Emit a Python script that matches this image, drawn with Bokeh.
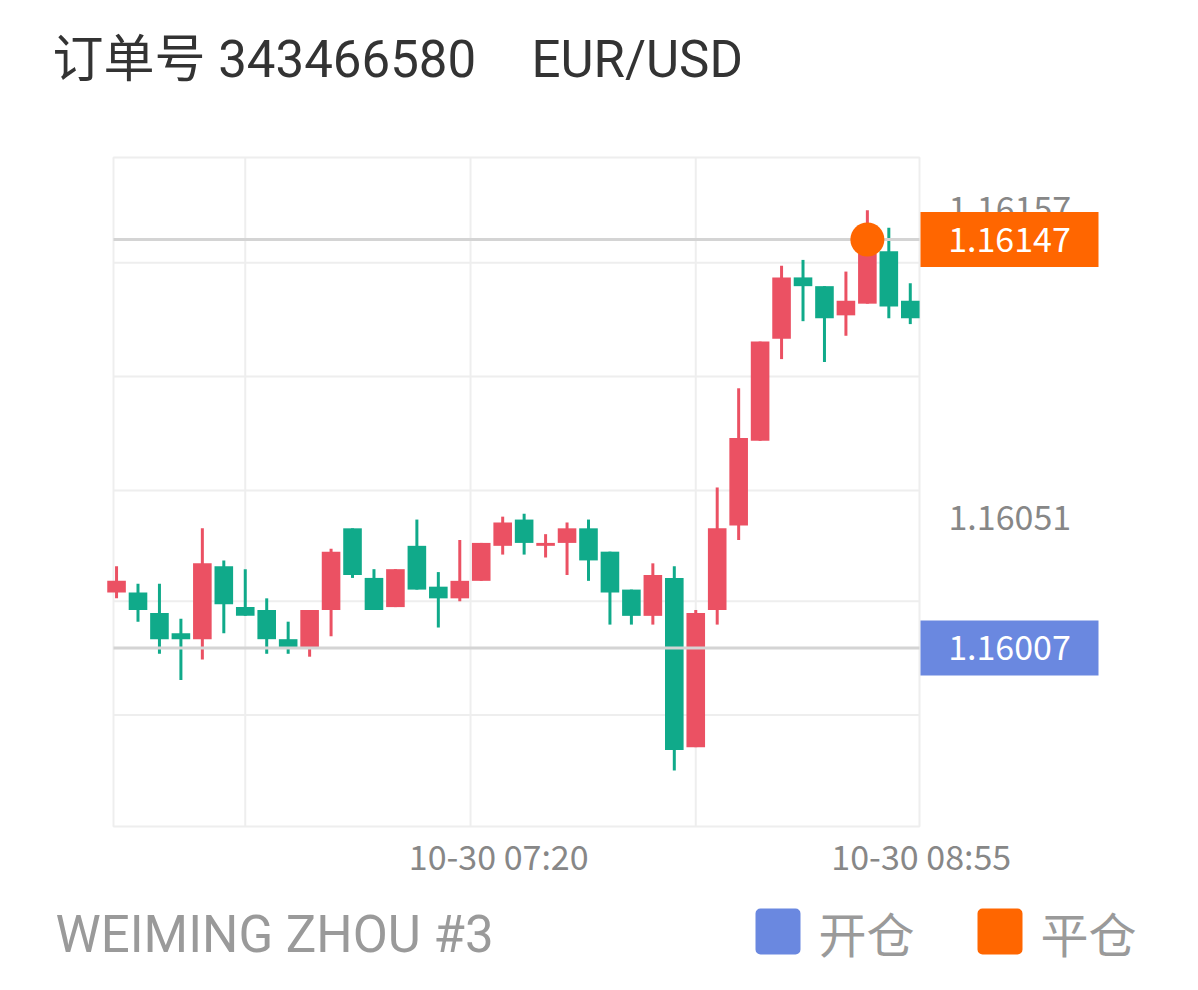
from bokeh.plotting import figure
from bokeh.models import Range1d, BoxAnnotation
from bokeh.core.properties import value
from bokeh.embed import file_html
from bokeh.resources import INLINE

# ---------------- data ----------------
order_no = "343466580"
symbol = "EUR/USD"
account = "WEIMING ZHOU #3"
date_str = "10-30"
legend_labels = ["开仓", "平仓"]

times = ["05:50", "05:55", "06:00", "06:05", "06:10", "06:15", "06:20", "06:25",
         "06:30", "06:35", "06:40", "06:45", "06:50", "06:55", "07:00", "07:05",
         "07:10", "07:15", "07:20", "07:25", "07:30", "07:35", "07:40", "07:45",
         "07:50", "07:55", "08:00", "08:05", "08:10", "08:15", "08:20", "08:25",
         "08:30", "08:35", "08:40", "08:45", "08:50", "08:55"]

opens = [1.16026, 1.16026, 1.16019, 1.16012, 1.16010, 1.16035, 1.16021, 1.16020,
         1.16010, 1.16007, 1.16020, 1.16048, 1.16031, 1.16021, 1.16042, 1.16028,
         1.16024, 1.16030, 1.16042, 1.16051, 1.16042, 1.16043, 1.16048, 1.16040,
         1.16027, 1.16018, 1.16031, 1.15973, 1.16020, 1.16049, 1.16078, 1.16113,
         1.16134, 1.16131, 1.16121, 1.16125, 1.16143, 1.16126]
highs = [1.16035, 1.16029, 1.16029, 1.16017, 1.16048, 1.16037, 1.16034, 1.16024,
         1.16016, 1.16020, 1.16041, 1.16048, 1.16034, 1.16034, 1.16051, 1.16033,
         1.16044, 1.16043, 1.16052, 1.16053, 1.16046, 1.16050, 1.16051, 1.16040,
         1.16027, 1.16036, 1.16035, 1.16020, 1.16062, 1.16096, 1.16112, 1.16138,
         1.16140, 1.16131, 1.16136, 1.16157, 1.16151, 1.16132]
lows = [1.16024, 1.16016, 1.16005, 1.15996, 1.16003, 1.16012, 1.16018, 1.16005,
        1.16005, 1.16004, 1.16011, 1.16031, 1.16020, 1.16021, 1.16027, 1.16014,
        1.16023, 1.16030, 1.16039, 1.16039, 1.16038, 1.16032, 1.16030, 1.16015,
        1.16015, 1.16015, 1.15965, 1.15973, 1.16015, 1.16044, 1.16078, 1.16106,
        1.16119, 1.16105, 1.16114, 1.16125, 1.16120, 1.16118]
closes = [1.16030, 1.16020, 1.16010, 1.16010, 1.16036, 1.16022, 1.16018, 1.16010,
          1.16007, 1.16020, 1.16040, 1.16032, 1.16020, 1.16034, 1.16027, 1.16024,
          1.16030, 1.16043, 1.16050, 1.16043, 1.16043, 1.16048, 1.16037, 1.16026,
          1.16018, 1.16032, 1.15972, 1.16019, 1.16048, 1.16079, 1.16112, 1.16134,
          1.16131, 1.16120, 1.16126, 1.16142, 1.16124, 1.16120]

open_price = 1.16007
close_price = 1.16147
close_time = "08:45"
right_labels = [1.16157, 1.16051]
x_tick_times = ["07:20", "08:55"]
x_grid = [6, 16.5, 27]
y_grid = [1.15984, 1.16023, 1.16061, 1.16100, 1.16139]
x_view = (-0.142, 37.43)
y_view = (1.159458, 1.161751)

# ---------------- layout / style ----------------
W, H = 1190, 984
PL, PR, PT, PB = 113, 919, 157, 826          # chart box in canvas pixels
UP = "#EB5163"
DOWN = "#10AA8A"
OPEN_C = "#6A88E0"
CLOSE_C = "#FF6600"
GRID_C = "#eeeeee"
LINE_C = "#d4d4d4"
AX_C = "#878787"
CJK = "'Noto Sans CJK SC'"
LAT = "Roboto, 'Noto Sans CJK SC'"

kx = (PR - PL) / (x_view[1] - x_view[0])
ky = (PB - PT) / (y_view[1] - y_view[0])
xr = Range1d(x_view[0] - PL / kx, x_view[1] + (W - PR) / kx)
yr = Range1d(y_view[0] - (H - PB) / ky, y_view[1] + PT / ky)


def px2x(px):
    return xr.start + px / kx


def py2y(py):
    return yr.end - py / ky


p = figure(width=W, height=H, output_backend="svg", toolbar_location=None,
           x_axis_type=None, y_axis_type=None, title=None,
           x_range=xr, y_range=yr, min_border=0)
p.background_fill_color = "white"
p.border_fill_color = "white"
p.outline_line_color = None
p.xgrid.visible = False
p.ygrid.visible = False

# grid lines inside the chart box
p.segment(x0=x_grid, y0=[y_view[0]] * len(x_grid), x1=x_grid, y1=[y_view[1]] * len(x_grid),
          line_color=GRID_C, line_width=2)
p.segment(x0=[x_view[0]] * len(y_grid), y0=y_grid, x1=[x_view[1]] * len(y_grid), y1=y_grid,
          line_color=GRID_C, line_width=2)
p.quad(left=[x_view[0]], right=[x_view[1]], bottom=[y_view[0]], top=[y_view[1]],
       fill_color=None, line_color=GRID_C, line_width=2)

# candles
idx = list(range(len(times)))
tops = [max(o, c) for o, c in zip(opens, closes)]
bots = [min(o, c) for o, c in zip(opens, closes)]
cols = [UP if c >= o else DOWN for o, c in zip(opens, closes)]
p.segment(x0=idx, y0=highs, x1=idx, y1=lows, line_color=cols, line_width=3)
p.vbar(x=idx, width=0.867, top=tops, bottom=bots, fill_color=cols, line_color=None)

# open / close price lines
p.segment(x0=[x_view[0]] * 2, y0=[close_price, open_price], x1=[x_view[1]] * 2,
          y1=[close_price, open_price], line_color=LINE_C, line_width=3)

# close marker
p.scatter(x=[times.index(close_time)], y=[close_price], size=34, fill_color=CLOSE_C,
          line_color=None)

# x tick labels
xt = [times.index(t) for t in x_tick_times]
p.text(x=xt, y=[y_view[0]] * len(xt), text=[f"{date_str} {t}" for t in x_tick_times],
       y_offset=29, x_offset=[-4, 11], text_align="center", text_baseline="alphabetic",
       text_font=value(CJK), text_font_size="34px", text_color=AX_C)

# right price labels
p.text(x=[x_view[1]] * len(right_labels), y=right_labels,
       text=[f"{v:.5f}" for v in right_labels], x_offset=29, y_offset=-2,
       text_align="left", text_baseline="middle",
       text_font=value(CJK), text_font_size="34px", text_color=AX_C)

# price boxes
box_h = 55 / ky
prices = [close_price, open_price]
p.quad(left=[px2x(920)] * 2, right=[px2x(1098)] * 2,
       bottom=[v - box_h / 2 for v in prices], top=[v + box_h / 2 for v in prices],
       fill_color=[CLOSE_C, OPEN_C], line_color=None)
p.text(x=[px2x(1009)] * 2, y=prices, text=[f"{v:.5f}" for v in prices],
       text_align="center", text_baseline="middle",
       text_font=value(CJK), text_font_size="34px", text_color="white")

# title
p.text(x=[px2x(52), px2x(531)], y=[py2y(59)] * 2, text=[f"订单号 {order_no}", symbol],
       text_align="left", text_baseline="alphabetic",
       text_font=value(LAT), text_font_size="51px", text_color="#333333")

# footer
p.text(x=[px2x(55)], y=[py2y(934)], text=[account], text_align="left",
       text_baseline="alphabetic", text_font=value(LAT), text_font_size="51px",
       text_color="#9a9a9a")

# legend
for bx, tx, lab, col in zip([755, 977], [818, 1040], legend_labels, [OPEN_C, CLOSE_C]):
    p.add_layout(BoxAnnotation(left=px2x(bx), right=px2x(bx + 45),
                               bottom=py2y(954), top=py2y(908),
                               fill_color=col, fill_alpha=1.0, line_color=None,
                               border_radius=5))
    p.text(x=[px2x(tx)], y=[py2y(931)], text=[lab], text_align="left",
           text_baseline="middle", text_font=value(CJK), text_font_size="48px",
           text_color="#9a9a9a")

open("out.html", "w").write(file_html(p, INLINE))
